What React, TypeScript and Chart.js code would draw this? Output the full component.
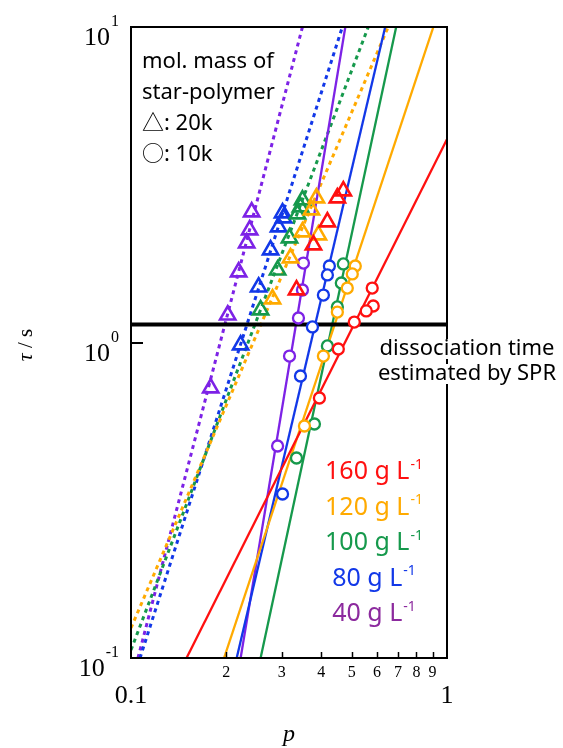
import React, { useEffect, useRef } from "react";
import { Chart, registerables } from "chart.js";

Chart.register(...registerables);

// ---------- data (p, tau / s) ----------
// 20k star polymer (triangles)
const tri40P = [0.2409, 0.2374, 0.2323, 0.2191, 0.2023, 0.1788];
const tri40T = [2.593, 2.273, 2.067, 1.673, 1.222, 0.7175];
const tri80P = [0.3017, 0.3039, 0.2931, 0.2765, 0.2534, 0.2223];
const tri80T = [2.573, 2.481, 2.323, 1.965, 1.499, 0.982];
const tri100P = [0.3488, 0.3438, 0.3364, 0.3174, 0.291, 0.2571];
const tri100T = [2.829, 2.689, 2.555, 2.144, 1.697, 1.268];
const tri120P = [0.3862, 0.3724, 0.3488, 0.3918, 0.3197, 0.2805];
const tri120T = [2.871, 2.63, 2.24, 2.192, 1.853, 1.374];
const tri160P = [0.4698, 0.4498, 0.4183, 0.3779, 0.334];
const tri160T = [3.021, 2.871, 2.41, 2.037, 1.467];

// 10k star polymer (circles)
const cir40P = [0.3513, 0.3488, 0.3388, 0.3174, 0.291];
const cir40T = [1.786, 1.467, 1.196, 0.906, 0.4698];
const cir80P = [0.4244, 0.4183, 0.4063, 0.3751, 0.3438, 0.3017];
const cir80T = [1.748, 1.637, 1.414, 1.12, 0.783, 0.331];
const cir100P = [0.4698, 0.463, 0.4498, 0.4183, 0.3806, 0.334];
const cir100T = [1.774, 1.544, 1.296, 0.975, 0.5516, 0.4304];
const cir120P = [0.5126, 0.5015, 0.4836, 0.4498, 0.4063, 0.3539];
const cir120T = [1.748, 1.649, 1.488, 1.249, 0.906, 0.5437];
const cir160P = [0.5799, 0.5842, 0.5552, 0.5089, 0.453, 0.3947];
const cir160T = [1.488, 1.305, 1.259, 1.161, 0.9537, 0.6669];

// fit lines, 10k (solid)
const fit10k40P = [0.2223, 0.4767];
const fit10k40T = [0.1, 10];
const fit10k80P = [0.216, 0.6374];
const fit10k80T = [0.1, 10];
const fit10k100P = [0.2571, 0.6905];
const fit10k100T = [0.1, 10];
const fit10k120P = [0.197, 0.9055];
const fit10k120T = [0.1, 10];
const fit10k160P = [0.1499, 1.0];
const fit10k160T = [0.1, 4.41];

// fit lines, 20k (dotted)
const fit20k40P = [0.1052, 0.3488];
const fit20k40T = [0.1, 10];
const fit20k80P = [0.1068, 0.4665];
const fit20k80T = [0.1, 10];
const fit20k100P = [0.1, 0.5633];
const fit20k100T = [0.106, 10];
const fit20k120P = [0.1, 0.6515];
const fit20k120T = [0.1245, 10];

// dissociation time estimated by SPR
const sprP = [0.1, 1.0];
const sprT = [1.14, 1.14];

// axes
const xMinorTicks = [0.2, 0.3, 0.4, 0.5, 0.6, 0.7, 0.8, 0.9];
const xMinorLabels = ["2", "3", "4", "5", "6", "7", "8", "9"];
const xMajorTicks = [0.1, 1];
const xMajorLabels = ["0.1", "1"];
const yTicks = [0.1, 1, 10];
const yTickExps = ["-1", "0", "1"];
const yInnerTicks = [1];

// texts
const noteLines = ["mol. mass of", "star-polymer", "\u25B3: 20k", "\u25CB: 10k"];
const sprLines = ["dissociation time", "estimated by SPR"];
const concLabels = ["160", "120", "100", "80", "40"];

// ---------- styles ----------
const C_RED = "#ff1010";
const C_ORANGE = "#ffaa00";
const C_GREEN = "#16994c";
const C_BLUE = "#1238e8";
const C_PURPLE = "#7d22e6";
const T_PURPLE = "#8c2a9e";
const concColors = [C_RED, C_ORANGE, C_GREEN, C_BLUE, T_PURPLE];

const pts = (xs: number[], ys: number[]) => xs.map((x, i) => ({ x, y: ys[i] }));

const triSet = (xs: number[], ys: number[], color: string) => ({
  data: pts(xs, ys),
  showLine: false,
  pointStyle: "triangle",
  pointRadius: 8.8,
  pointBorderWidth: 2.6,
  pointBorderColor: color,
  pointBackgroundColor: "rgba(255,255,255,0)",
  borderColor: color,
});
const cirSet = (xs: number[], ys: number[], color: string) => ({
  data: pts(xs, ys),
  showLine: false,
  pointStyle: "circle",
  pointRadius: 5.5,
  pointBorderWidth: 2.3,
  pointBorderColor: color,
  pointBackgroundColor: "#ffffff",
  borderColor: color,
});
const lineSet = (xs: number[], ys: number[], color: string, dashed: boolean, width = 2.3) => ({
  data: pts(xs, ys),
  showLine: true,
  pointRadius: 0,
  borderColor: color,
  borderWidth: dashed ? 3 : width,
  borderDash: dashed ? [4, 4] : [],
  fill: false,
});

const SANS = '"Noto Sans", "Noto Sans CJK JP", sans-serif';
const SERIF = '"Liberation Serif", "DejaVu Serif", serif';

const decor = {
  id: "decor",
  afterDraw(chart: any) {
    const { ctx, chartArea: a, scales } = chart;
    const xs = scales.x;
    const ys = scales.y;
    ctx.save();
    ctx.fillStyle = "#000";
    ctx.strokeStyle = "#000";

    // frame
    ctx.lineWidth = 2;
    ctx.strokeRect(a.left, a.top, a.right - a.left, a.bottom - a.top);

    // inward ticks
    ctx.lineWidth = 1.5;
    for (const v of xMinorTicks) {
      const px = Math.round(xs.getPixelForValue(v)) + 0.5;
      ctx.beginPath();
      ctx.moveTo(px, a.bottom);
      ctx.lineTo(px, a.bottom - 6);
      ctx.stroke();
    }
    ctx.lineWidth = 2;
    for (const v of yInnerTicks) {
      const py = Math.round(ys.getPixelForValue(v));
      ctx.beginPath();
      ctx.moveTo(a.left, py);
      ctx.lineTo(a.left + 12, py);
      ctx.stroke();
    }

    // x tick labels
    ctx.textAlign = "center";
    ctx.textBaseline = "middle";
    ctx.font = `16px ${SERIF}`;
    xMinorTicks.forEach((v, i) => {
      ctx.fillText(xMinorLabels[i], xs.getPixelForValue(v), a.bottom + 15);
    });
    ctx.font = `26px ${SERIF}`;
    xMajorTicks.forEach((v, i) => {
      ctx.fillText(xMajorLabels[i], xs.getPixelForValue(v), a.bottom + 38);
    });

    // y tick labels 10^n
    ctx.textBaseline = "alphabetic";
    ctx.textAlign = "right";
    yTicks.forEach((v, i) => {
      const py = ys.getPixelForValue(v);
      const right = a.left - 12;
      ctx.font = `16px ${SERIF}`;
      const ew = ctx.measureText(yTickExps[i]).width;
      ctx.fillText(yTickExps[i], right, py - 1);
      ctx.font = `26px ${SERIF}`;
      ctx.fillText("10", right - ew - 1, py + 18);
    });

    // axis titles
    ctx.save();
    ctx.translate(26, 345);
    ctx.rotate(-Math.PI / 2);
    ctx.textBaseline = "middle";
    ctx.textAlign = "left";
    ctx.font = `italic 22px ${SERIF}`;
    const t1 = "\u03C4";
    const w1 = ctx.measureText(t1).width;
    ctx.font = `21px ${SERIF}`;
    const t2 = " / s";
    const w2 = ctx.measureText(t2).width;
    const start = -(w1 + w2) / 2;
    ctx.font = `italic 22px ${SERIF}`;
    ctx.fillText(t1, start, 0);
    ctx.font = `21px ${SERIF}`;
    ctx.fillText(t2, start + w1, 0);
    ctx.restore();

    ctx.textAlign = "center";
    ctx.textBaseline = "alphabetic";
    ctx.font = `italic 24px ${SERIF}`;
    ctx.fillText("p", (a.left + a.right) / 2, 741);

    // note (top-left)
    ctx.textAlign = "left";
    ctx.textBaseline = "middle";
    ctx.font = `22px ${SANS}`;
    noteLines.forEach((s, i) => {
      ctx.fillText(s, a.left + 11, 62 + i * 31);
    });

    // SPR note with white backing
    ctx.font = `22px ${SANS}`;
    ctx.textAlign = "center";
    sprLines.forEach((s, i) => {
      const y = 349 + i * 25;
      const w = ctx.measureText(s).width;
      ctx.fillStyle = "#fff";
      ctx.fillRect(467 - w / 2, y - 10, w, 20);
      ctx.fillStyle = "#000";
      ctx.fillText(s, 467, y);
    });

    // concentration labels
    ctx.textAlign = "left";
    concLabels.forEach((c, i) => {
      const y = 472 + i * 35.5;
      const main = `${c} g L`;
      ctx.font = `25px ${SANS}`;
      const mw = ctx.measureText(main).width;
      ctx.font = `14px ${SANS}`;
      const sw = ctx.measureText("-1").width;
      const x0 = 374 - (mw + sw + 1) / 2;
      ctx.fillStyle = concColors[i];
      ctx.font = `25px ${SANS}`;
      ctx.fillText(main, x0, y);
      ctx.font = `14px ${SANS}`;
      ctx.fillText("-1", x0 + mw + 1, y - 7);
    });

    ctx.restore();
  },
};

export default function App() {
  const ref = useRef<HTMLCanvasElement | null>(null);
  useEffect(() => {
    if (!ref.current) return;
    const datasets: any[] = [
      triSet(tri160P, tri160T, C_RED),
      triSet(tri120P, tri120T, C_ORANGE),
      triSet(tri100P, tri100T, C_GREEN),
      triSet(tri80P, tri80T, C_BLUE),
      triSet(tri40P, tri40T, C_PURPLE),
      cirSet(cir160P, cir160T, C_RED),
      cirSet(cir120P, cir120T, C_ORANGE),
      cirSet(cir100P, cir100T, C_GREEN),
      cirSet(cir80P, cir80T, C_BLUE),
      cirSet(cir40P, cir40T, C_PURPLE),
      lineSet(sprP, sprT, "#000", false, 4),
      lineSet(fit10k160P, fit10k160T, C_RED, false),
      lineSet(fit10k120P, fit10k120T, C_ORANGE, false),
      lineSet(fit10k100P, fit10k100T, C_GREEN, false),
      lineSet(fit10k80P, fit10k80T, C_BLUE, false),
      lineSet(fit10k40P, fit10k40T, C_PURPLE, false),
      lineSet(fit20k120P, fit20k120T, C_ORANGE, true),
      lineSet(fit20k100P, fit20k100T, C_GREEN, true),
      lineSet(fit20k80P, fit20k80T, C_BLUE, true),
      lineSet(fit20k40P, fit20k40T, C_PURPLE, true),
    ];
    const chart = new Chart(ref.current, {
      type: "scatter",
      data: { datasets },
      options: {
        responsive: false,
        animation: false,
        devicePixelRatio: 1,
        layout: { padding: { left: 131, top: 27, right: 116, bottom: 90 } },
        scales: {
          x: { type: "logarithmic", min: 0.1, max: 1, display: false },
          y: { type: "logarithmic", min: 0.1, max: 10, display: false },
        },
        plugins: { legend: { display: false }, tooltip: { enabled: false } },
        events: [],
      },
      plugins: [decor],
    } as any);
    return () => chart.destroy();
  }, []);
  return (
    <div style={{ position: "absolute", left: 0, top: 0, width: 563, height: 748, background: "#fff" }}>
      <canvas ref={ref} width={563} height={748} style={{ width: 563, height: 748, display: "block" }} />
    </div>
  );
}
